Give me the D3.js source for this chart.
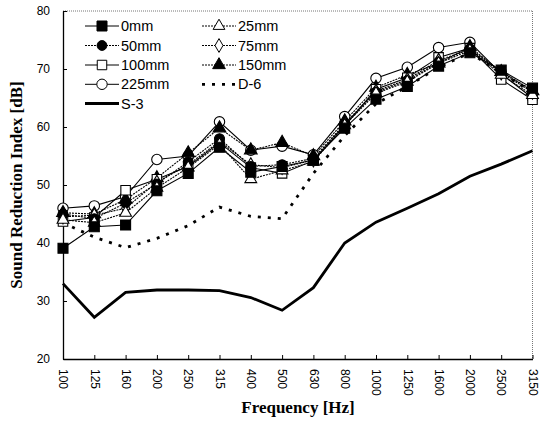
<!DOCTYPE html>
<html><head><meta charset="utf-8">
<script src="https://cdn.jsdelivr.net/npm/d3@7"></script>
<style>body{margin:0;background:#fff}</style>
</head><body><svg id="c" width="547" height="421"></svg>
<script>
const categories = ["100","125","160","200","250","315","400","500","630","800","1000","1250","1600","2000","2500","3150"];
const yTicks = [20,30,40,50,60,70,80];
const s0mm   = [39.1,42.8,43.1,49.0,52.0,56.5,52.2,53.2,54.3,59.8,64.8,67.0,70.5,72.8,69.8,66.7];
const s25mm  = [44.0,43.5,45.2,49.5,53.0,57.0,51.0,52.5,54.0,60.3,65.8,67.8,71.0,73.2,69.0,65.5];
const s50mm  = [45.0,44.2,46.9,50.2,54.0,58.0,53.2,53.5,54.6,60.5,66.0,68.0,71.2,73.5,69.6,66.3];
const s75mm  = [44.5,44.8,46.0,50.5,53.5,57.5,53.5,53.0,54.3,60.6,66.2,68.2,71.5,73.4,69.3,66.0];
const s100mm = [43.7,44.4,49.1,51.0,53.2,57.3,53.0,52.0,54.2,60.2,66.5,68.5,72.0,73.6,68.2,64.7];
const s150mm = [45.2,45.0,47.5,51.2,55.5,59.8,56.0,57.3,55.0,61.0,66.8,69.0,71.0,73.8,69.5,66.2];
const s225mm = [46.0,46.4,48.0,54.4,55.0,60.9,56.0,56.7,55.2,61.8,68.4,70.3,73.7,74.6,69.2,65.0];
const sD6    = [43.5,41.0,39.2,40.8,43.0,46.2,44.6,44.2,52.0,58.5,64.0,67.0,70.3,72.8,69.3,66.0];
const sS3    = [33.0,27.2,31.5,31.9,31.9,31.8,30.6,28.4,32.3,40.0,43.6,46.0,48.5,51.5,53.6,55.9];

const svg = d3.select("#c");
const x = d3.scalePoint().domain(categories).range([63, 532.5]);
const y = d3.scaleLinear().domain([20, 80]).range([359, 11]);

// frame (dotted top/right)
svg.append("line").attr("x1",63).attr("x2",532.5).attr("y1",11).attr("y2",11)
  .attr("stroke","#777").attr("stroke-width",1).attr("stroke-dasharray","1,1");
svg.append("line").attr("x1",532.5).attr("x2",532.5).attr("y1",11).attr("y2",359)
  .attr("stroke","#777").attr("stroke-width",1).attr("stroke-dasharray","1,1");

// axes
const yAxis = d3.axisLeft(y).tickValues(yTicks).tickSizeInner(-4).tickSizeOuter(0).tickPadding(13);
const gy = svg.append("g").attr("transform","translate(63,0)").call(yAxis);
const xAxis = d3.axisBottom(x).tickSizeInner(-4).tickSizeOuter(0).tickPadding(0);
const gx = svg.append("g").attr("transform","translate(0,359)").call(xAxis);
[gx, gy].forEach(g => {
  g.select(".domain").attr("stroke","#000").attr("stroke-width",1.3);
  g.selectAll(".tick line").attr("stroke","#000");
  g.selectAll("text").attr("font-family","Liberation Sans, Arial, sans-serif").attr("font-size",12).attr("fill","#000");
});
gx.selectAll(".tick text").attr("transform","translate(0,10) rotate(90)")
  .attr("text-anchor","start").attr("dy","0.35em").attr("dx","0").attr("y",0).attr("x",0);

// titles
svg.append("text").attr("x",298).attr("y",413).attr("text-anchor","middle")
  .attr("font-family","Liberation Serif, Times New Roman, serif").attr("font-weight","bold")
  .attr("font-size",17).text("Frequency [Hz]");
svg.append("text").attr("transform","translate(22,185) rotate(-90)").attr("text-anchor","middle")
  .attr("font-family","Liberation Serif, Times New Roman, serif").attr("font-weight","bold")
  .attr("font-size",17).text("Sound Reduction Index [dB]");

const line = d3.line().x((d,i)=>x(categories[i])).y(d=>y(d));

// reference curves
svg.append("path").datum(sS3).attr("d",line).attr("fill","none").attr("stroke","#000").attr("stroke-width",2.8);
svg.append("path").datum(sD6).attr("d",line).attr("fill","none").attr("stroke","#000").attr("stroke-width",2.8).attr("stroke-dasharray","3,7");

const series = [
  {name:"0mm",   data:s0mm,   sym:d3.symbolSquare,   fill:"#000", dash:null,  size:100},
  {name:"25mm",  data:s25mm,  sym:d3.symbolTriangle, fill:"#fff", dash:"2,1", size:60},
  {name:"50mm",  data:s50mm,  sym:d3.symbolCircle,   fill:"#000", dash:"2,1", size:75},
  {name:"75mm",  data:s75mm,  sym:d3.symbolDiamond,  fill:"#fff", dash:"2,1", size:55},
  {name:"100mm", data:s100mm, sym:d3.symbolSquare,   fill:"#fff", dash:null,  size:90},
  {name:"150mm", data:s150mm, sym:d3.symbolTriangle, fill:"#000", dash:"2,1", size:70},
  {name:"225mm", data:s225mm, sym:d3.symbolCircle,   fill:"#fff", dash:null,  size:85}
];
series.forEach(s => {
  svg.append("path").datum(s.data).attr("d",line).attr("fill","none").attr("stroke","#000")
    .attr("stroke-width",1.1).attr("stroke-dasharray",s.dash);
});
series.slice().reverse().forEach(s => {
  svg.append("g").selectAll("path").data(s.data).join("path")
    .attr("transform",(d,i)=>`translate(${x(categories[i])},${y(d)})`)
    .attr("d",d3.symbol().type(s.sym).size(s.size))
    .attr("fill",s.fill).attr("stroke","#000").attr("stroke-width",1.1);
});

// legend
const leg = [
  {s:series[0], col:0, row:0}, {s:series[1], col:1, row:0},
  {s:series[2], col:0, row:1}, {s:series[3], col:1, row:1},
  {s:series[4], col:0, row:2}, {s:series[5], col:1, row:2},
  {s:series[6], col:0, row:3}, {s:{name:"D-6", d6:true}, col:1, row:3},
  {s:{name:"S-3", s3:true}, col:0, row:4}
];
const colX = [85, 202], rowY = [26, 45.5, 65, 84.3, 103.5];
leg.forEach(l => {
  const x0 = colX[l.col], yy = rowY[l.row];
  const g = svg.append("g");
  if (l.s.s3) {
    g.append("line").attr("x1",x0).attr("x2",x0+34).attr("y1",yy).attr("y2",yy).attr("stroke","#000").attr("stroke-width",2.8);
  } else if (l.s.d6) {
    g.append("line").attr("x1",x0).attr("x2",x0+34).attr("y1",yy).attr("y2",yy).attr("stroke","#000").attr("stroke-width",2.8).attr("stroke-dasharray","3,7");
  } else {
    g.append("line").attr("x1",x0).attr("x2",x0+34).attr("y1",yy).attr("y2",yy).attr("stroke","#000").attr("stroke-width",1).attr("stroke-dasharray",l.s.dash);
    g.append("path").attr("transform",`translate(${x0+17},${yy})`).attr("d",d3.symbol().type(l.s.sym).size(l.s.size))
      .attr("fill",l.s.fill).attr("stroke","#000");
  }
  g.append("text").attr("x",x0+36).attr("y",yy).attr("dy","0.35em")
    .attr("font-family","Liberation Sans, Arial, sans-serif").attr("font-size",14.5).text(l.s.name);
});
</script></body></html>
